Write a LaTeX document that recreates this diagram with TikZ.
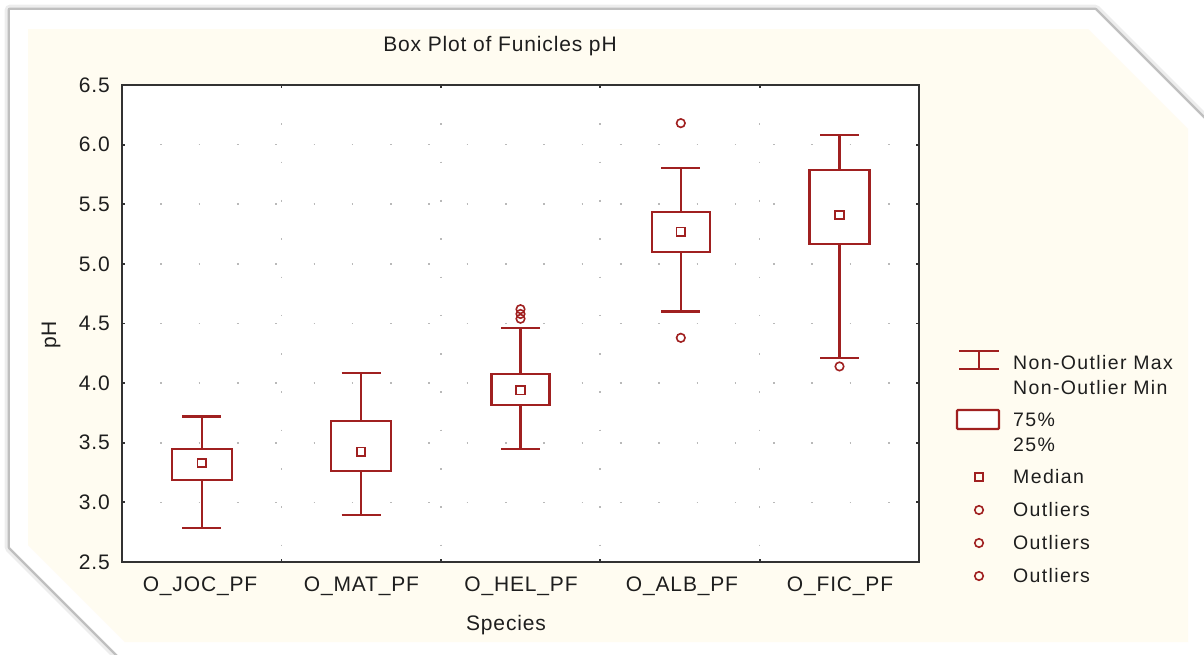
\documentclass[tikz,border=0pt]{standalone}
\usepackage{fontspec}
\setmainfont{Liberation Sans}
\newfontfamily\plotfont[LetterSpace=4]{Liberation Sans}
\newfontfamily\legfont[LetterSpace=7]{Liberation Sans}
\usetikzlibrary{positioning}
\definecolor{boxred}{RGB}{160,32,32}
\definecolor{paper}{RGB}{255,252,241}
\definecolor{dotgray}{RGB}{185,185,185}
\definecolor{axisgray}{RGB}{50,50,50}
\definecolor{inkgray}{RGB}{30,30,30}

\begin{document}
\begin{tikzpicture}[x=1pt, y=-1pt,
  whisker/.style={boxred, line width=2.2pt},
  boxrect/.style={boxred, line width=2.2pt, fill=white},
  medmark/.style={rectangle, draw=boxred, line width=1.8pt, minimum size=8.5pt, inner sep=0pt},
  outmark/.style={circle, draw=boxred, line width=1.6pt, minimum size=8.5pt, inner sep=0pt},
  griddot/.style={dotgray, line width=1.6pt, dash pattern=on 1.6pt off 36.7pt},
  axtick/.style={axisgray, line width=1.8pt},
  lbl/.style={text=inkgray, font=\plotfont\fontsize{21}{24}\selectfont, inner sep=0pt},
  leg/.style={text=inkgray, font=\legfont\fontsize{19.5}{22}\selectfont, anchor=west, inner sep=0pt}]
\useasboundingbox (0,0) rectangle (1204,654);

% frame with shadow
\draw[black!7, line width=11pt, line join=round] (10,10) -- (1095,10) -- (1214,129) -- (1214,664) -- (127,664) -- (10,547) -- cycle;
\draw[black!25, line width=5pt, line join=round] (10,10) -- (1095,10) -- (1214,129) -- (1214,664) -- (127,664) -- (10,547) -- cycle;
\fill[white] (10,10) -- (1095,10) -- (1214,129) -- (1214,664) -- (127,664) -- (10,547) -- cycle;
\fill[paper] (28,29) -- (1088,29) -- (1188,129) -- (1188,642) -- (125,642) -- (28,545) -- cycle;

% plot area
\fill[white] (122,85) rectangle (919,562);

\node[lbl] (title) at (500,46) {Box Plot of Funicles pH};
\node[lbl, rotate=90] (ylab) at (51,335) {pH};
\node[lbl] (xlab) at (506,625) {Species};

\begin{scope}[yshift=-860.125pt, y=119.25pt]
% grid
\draw[griddot] (122,3.0) -- (919,3.0);
\draw[griddot] (122,3.5) -- (919,3.5);
\draw[griddot] (122,4.0) -- (919,4.0);
\draw[griddot] (122,4.5) -- (919,4.5);
\draw[griddot] (122,5.0) -- (919,5.0);
\draw[griddot] (122,5.5) -- (919,5.5);
\draw[griddot] (122,6.0) -- (919,6.0);
\draw[griddot] (281.4,6.5) -- (281.4,2.5);
\draw[griddot] (440.8,6.5) -- (440.8,2.5);
\draw[griddot] (600.2,6.5) -- (600.2,2.5);
\draw[griddot] (759.6,6.5) -- (759.6,2.5);

% y ticks and labels
\node[lbl, anchor=east] (t25) at (110,2.5) {2.5};
\node[lbl, anchor=east] (t30) at (110,3.0) {3.0};
\node[lbl, anchor=east] (t35) at (110,3.5) {3.5};
\node[lbl, anchor=east] (t40) at (110,4.0) {4.0};
\node[lbl, anchor=east] (t45) at (110,4.5) {4.5};
\node[lbl, anchor=east] (t50) at (110,5.0) {5.0};
\node[lbl, anchor=east] (t55) at (110,5.5) {5.5};
\node[lbl, anchor=east] (t60) at (110,6.0) {6.0};
\node[lbl, anchor=east] (t65) at (110,6.5) {6.5};
\draw[axtick] (122,3.0) -- +(3,0);  \draw[axtick] (919,3.0) -- +(-3,0);
\draw[axtick] (122,3.5) -- +(3,0);  \draw[axtick] (919,3.5) -- +(-3,0);
\draw[axtick] (122,4.0) -- +(3,0);  \draw[axtick] (919,4.0) -- +(-3,0);
\draw[axtick] (122,4.5) -- +(3,0);  \draw[axtick] (919,4.5) -- +(-3,0);
\draw[axtick] (122,5.0) -- +(3,0);  \draw[axtick] (919,5.0) -- +(-3,0);
\draw[axtick] (122,5.5) -- +(3,0);  \draw[axtick] (919,5.5) -- +(-3,0);
\draw[axtick] (122,6.0) -- +(3,0);  \draw[axtick] (919,6.0) -- +(-3,0);
\draw[axtick] (281.4,2.5) -- +(0,0.025);  \draw[axtick] (281.4,6.5) -- +(0,-0.025);
\draw[axtick] (440.8,2.5) -- +(0,0.025);  \draw[axtick] (440.8,6.5) -- +(0,-0.025);
\draw[axtick] (600.2,2.5) -- +(0,0.025);  \draw[axtick] (600.2,6.5) -- +(0,-0.025);
\draw[axtick] (759.6,2.5) -- +(0,0.025);  \draw[axtick] (759.6,6.5) -- +(0,-0.025);

% O_JOC_PF
\draw[whisker] (201.7,3.45) -- (201.7,3.72);
\draw[whisker] (201.7,3.19) -- (201.7,2.785);
\draw[whisker] (182.2,3.72) -- (221.2,3.72);
\draw[whisker] (182.2,2.785) -- (221.2,2.785);
\draw[boxrect] (171.7,3.19) rectangle (231.7,3.45);
\node[medmark] (medJOC) at (201.7,3.33) {};

% O_MAT_PF
\draw[whisker] (361.1,3.685) -- (361.1,4.085);
\draw[whisker] (361.1,3.26) -- (361.1,2.894);
\draw[whisker] (341.6,4.085) -- (380.6,4.085);
\draw[whisker] (341.6,2.894) -- (380.6,2.894);
\draw[boxrect] (331.1,3.26) rectangle (391.1,3.685);
\node[medmark] (medMAT) at (361.1,3.425) {};

% O_HEL_PF
\draw[whisker] (520.5,4.074) -- (520.5,4.46);
\draw[whisker] (520.5,3.816) -- (520.5,3.447);
\draw[whisker] (501,4.46) -- (540,4.46);
\draw[whisker] (501,3.447) -- (540,3.447);
\draw[boxrect] (491.5,3.816) rectangle (549.5,4.074);
\node[medmark] (medHEL) at (520.5,3.94) {};
\node[outmark] (outHELa) at (520.5,4.54) {};
\node[outmark] (outHELb) at (520.5,4.58) {};
\node[outmark] (outHELc) at (520.5,4.62) {};

% O_ALB_PF
\draw[whisker] (680.8,5.438) -- (680.8,5.807);
\draw[whisker] (680.8,5.102) -- (680.8,4.60);
\draw[whisker] (661.3,5.807) -- (700.3,5.807);
\draw[whisker] (661.3,4.60) -- (700.3,4.60);
\draw[boxrect] (651.8,5.102) rectangle (709.8,5.438);
\node[medmark] (medALB) at (680.8,5.27) {};
\node[outmark] (outALBa) at (680.8,6.18) {};
\node[outmark] (outALBb) at (680.8,4.38) {};

% O_FIC_PF
\draw[whisker] (839.5,5.787) -- (839.5,6.08);
\draw[whisker] (839.5,5.167) -- (839.5,4.21);
\draw[whisker] (820,6.08) -- (859,6.08);
\draw[whisker] (820,4.21) -- (859,4.21);
\draw[boxrect] (809.5,5.167) rectangle (869.5,5.787);
\node[medmark] (medFIC) at (839.5,5.41) {};
\node[outmark] (outFIC) at (839.5,4.14) {};
\end{scope}

\draw[axisgray, line width=2.4pt] (122,85) rectangle (919,562);

% category labels
\node[lbl] (catJOC) at (200,586) {O\_JOC\_PF};
\node[lbl] (catMAT) at (361.5,586) {O\_MAT\_PF};
\node[lbl] (catHEL) at (521,586) {O\_HEL\_PF};
\node[lbl] (catALB) at (682,586) {O\_ALB\_PF};
\node[lbl] (catFIC) at (840,586) {O\_FIC\_PF};

% legend
\draw[whisker] (959,350.7) -- (999,350.7);
\draw[whisker] (979,350.7) -- (979,369);
\draw[whisker] (959,369) -- (999,369);
\draw[boxrect, rounded corners=1pt] (957,410) rectangle (999,429);
\node[medmark] (legMed) at (979,477) {};
\node[outmark] (legOutA) at (979,510) {};
\node[outmark] (legOutB) at (979,543) {};
\node[outmark] (legOutC) at (979,576) {};
\node[leg] (legMax) at (1013,362.7) {Non-Outlier Max};
\node[leg] (legMin) at (1013,388) {Non-Outlier Min};
\node[leg] (leg75) at (1013,420) {75\%};
\node[leg] (leg25) at (1013,445) {25\%};
\node[leg] (legMedT) at (1013,477) {Median};
\node[leg] (legOutAT) at (1013,510) {Outliers};
\node[leg] (legOutBT) at (1013,543) {Outliers};
\node[leg] (legOutCT) at (1013,576) {Outliers};
\end{tikzpicture}
\end{document}
